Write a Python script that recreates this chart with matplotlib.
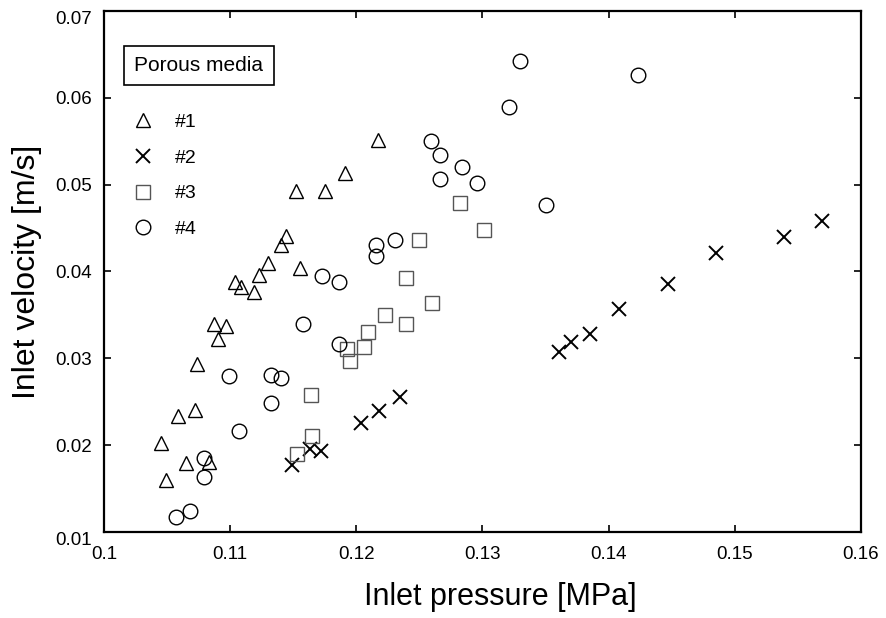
import matplotlib
matplotlib.use("Agg")
import matplotlib.pyplot as plt

plt.rcParams['font.family'] = ['Liberation Sans', 'DejaVu Sans']

# Series #1 (triangles)
p1 = [0.1045, 0.1049, 0.1059, 0.1065, 0.1072, 0.1074, 0.1083, 0.1087, 0.1090, 0.1097,
      0.1104, 0.1109, 0.1119, 0.1123, 0.1130, 0.1140, 0.1144, 0.1155, 0.1152, 0.1175,
      0.1191, 0.1217]
v1 = [0.0203, 0.0160, 0.0234, 0.0180, 0.0241, 0.0293, 0.0181, 0.0340, 0.0322, 0.0337,
      0.0388, 0.0382, 0.0376, 0.0396, 0.0410, 0.0430, 0.0441, 0.0404, 0.0493, 0.0493,
      0.0514, 0.0551]
# Series #2 (crosses)
p2 = [0.1149, 0.1163, 0.1172, 0.1204, 0.1218, 0.1235, 0.1361, 0.1370, 0.1385, 0.1408,
      0.1447, 0.1485, 0.1539, 0.1569]
v2 = [0.0177, 0.0196, 0.0193, 0.0226, 0.0239, 0.0255, 0.0307, 0.0319, 0.0328, 0.0357,
      0.0386, 0.0421, 0.0440, 0.0458]
# Series #3 (squares)
p3 = [0.1153, 0.1165, 0.1164, 0.1195, 0.1193, 0.1206, 0.1209, 0.1223, 0.1239, 0.1239,
      0.1260, 0.1250, 0.1282, 0.1301]
v3 = [0.0190, 0.0210, 0.0258, 0.0297, 0.0311, 0.0313, 0.0330, 0.0350, 0.0340, 0.0392,
      0.0364, 0.0436, 0.0479, 0.0448]
# Series #4 (circles)
p4 = [0.1057, 0.1068, 0.1079, 0.1079, 0.1107, 0.1099, 0.1132, 0.1132, 0.1140, 0.1158,
      0.1186, 0.1173, 0.1186, 0.1216, 0.1216, 0.1231, 0.1259, 0.1266, 0.1266, 0.1284,
      0.1296, 0.1330, 0.1321, 0.1423, 0.1350]
v4 = [0.0117, 0.0124, 0.0163, 0.0185, 0.0216, 0.0280, 0.0249, 0.0281, 0.0277, 0.0340,
      0.0317, 0.0395, 0.0388, 0.0431, 0.0418, 0.0436, 0.0550, 0.0534, 0.0507, 0.0520,
      0.0502, 0.0642, 0.0589, 0.0626, 0.0477]

labels = ['#1', '#2', '#3', '#4']
xticks = [0.1, 0.11, 0.12, 0.13, 0.14, 0.15, 0.16]
xticklabels = ['0.1', '0.11', '0.12', '0.13', '0.14', '0.15', '0.16']
yticks = [0.01, 0.02, 0.03, 0.04, 0.05, 0.06, 0.07]
yticklabels = ['0.01', '0.02', '0.03', '0.04', '0.05', '0.06', '0.07']

fig = plt.figure(figsize=(8.87, 6.18), dpi=100)
ax = fig.add_axes([0.1172, 0.1392, 0.8535, 0.843])

common = dict(ls='none', mfc='none', mec='black', mew=1.0)
ax.plot(p1, v1, marker='^', ms=10.5, label=labels[0], **common)
ax.plot(p2, v2, marker='x', ms=10.5, label=labels[1], ls='none', color='black', mew=1.4)
ax.plot(p3, v3, marker='s', ms=10, label=labels[2], ls='none', mfc='none', mec='#555555', mew=1.0)
ax.plot(p4, v4, marker='o', ms=10.5, label=labels[3], **common)

ax.set_xlim(0.1, 0.16)
ax.set_ylim(0.01, 0.07)
ax.set_xticks(xticks)
ax.set_xticklabels(xticklabels)
ax.set_yticks(yticks)
ax.set_yticklabels(yticklabels)
ax.tick_params(direction='in', top=True, right=True, length=5, width=1.2,
               labelsize=13.5)
ax.tick_params(axis='x', pad=10)
ax.tick_params(axis='y', pad=8.5)
ylabs = ax.get_yticklabels()
ylabs[0].set_va('top')
ylabs[-1].set_va('top')
for s in ax.spines.values():
    s.set_linewidth(1.6)

ax.set_xlabel('Inlet pressure [MPa]', fontsize=22, labelpad=14)
ax.xaxis.label.set_x(0.524)
ax.set_ylabel('Inlet velocity [m/s]', fontsize=23, labelpad=10)

ax.text(0.1255, 0.8955, 'Porous media', transform=ax.transAxes, fontsize=15,
        va='center', ha='center',
        bbox=dict(boxstyle='square,pad=0.5', fc='white', ec='black', lw=1.2))

leg = ax.legend(loc='upper left', bbox_to_anchor=(0.0324, 0.8035), frameon=False,
                fontsize=14, handletextpad=0.9, labelspacing=0.93, borderpad=0.0,
                borderaxespad=0.0, handlelength=1.5)

fig.savefig('out.png', dpi=100)
